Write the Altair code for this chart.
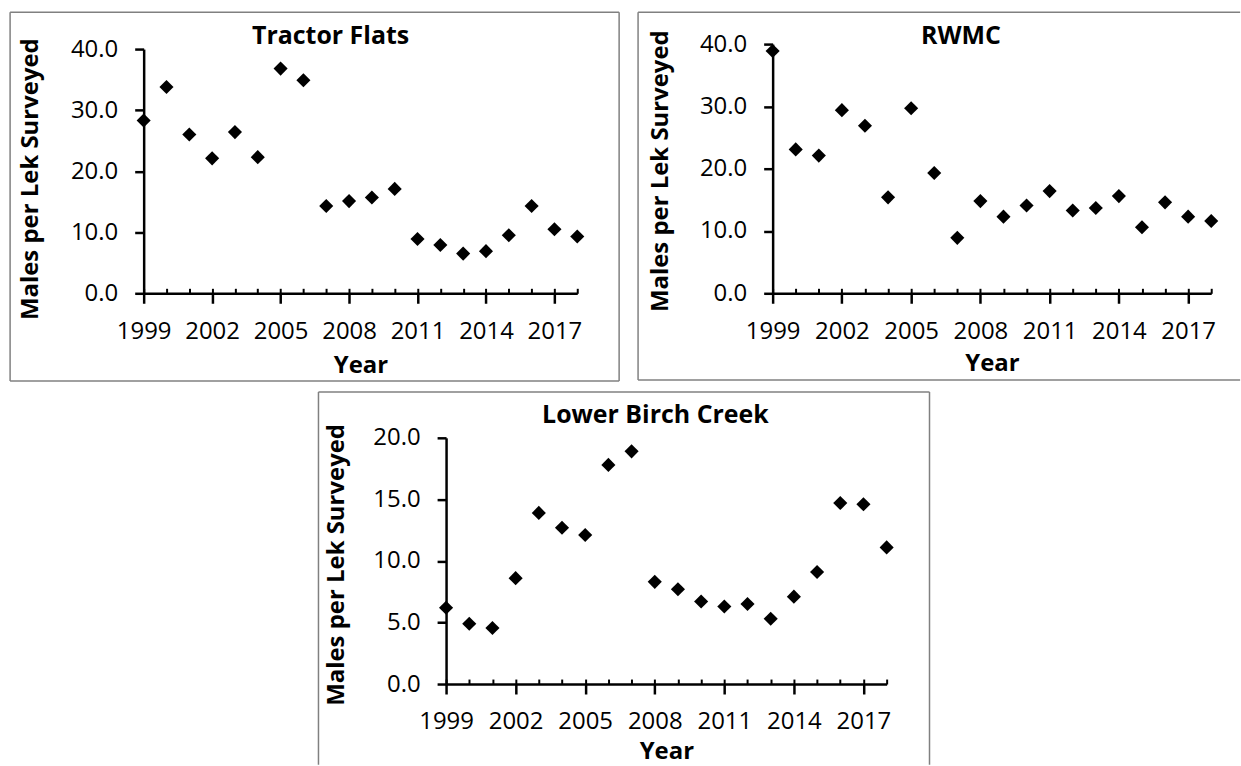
import altair as alt
import pandas as pd

# ---------------- data ----------------
years = list(range(1999, 2019))
major_years = [1999, 2002, 2005, 2008, 2011, 2014, 2017]

tractor_flats = [28.3, 33.8, 26.0, 22.1, 26.4, 22.3, 36.8, 34.9, 14.3, 15.1,
                 15.7, 17.1, 8.9, 7.9, 6.5, 6.9, 9.5, 14.3, 10.5, 9.3]
rwmc = [38.9, 23.1, 22.1, 29.4, 26.9, 15.4, 29.7, 19.3, 8.9, 14.8,
        12.3, 14.1, 16.4, 13.3, 13.7, 15.6, 10.6, 14.6, 12.3, 11.6]
lower_birch_creek = [6.2, 4.9, 4.55, 8.6, 13.9, 12.7, 12.1, 17.8, 18.9, 8.3,
                     7.7, 6.7, 6.3, 6.5, 5.3, 7.1, 9.1, 14.7, 14.6, 11.1]

panel_titles = ["Tractor Flats", "RWMC", "Lower Birch Creek"]
y_max = [40, 40, 20]
y_ticks = [[0, 10, 20, 30, 40], [0, 10, 20, 30, 40], [0, 5, 10, 15, 20]]
y_title = "Males per Lek Surveyed"
x_title = "Year"

FONT = "Open Sans"
INK = "black"
BOX = "#808080"
one = pd.DataFrame({"k": [0]})


def rule(a, b, c, d, opacity=1):
    return alt.Chart(one).mark_rule(color=BOX, strokeWidth=1.5, opacity=opacity).encode(
        x=alt.value(a), x2=alt.value(b), y=alt.value(c), y2=alt.value(d))


def panel(title, values, ymax, yticks, w, h, ytop, box, sides, title_pos,
          ytitle_x, ytitle_y, xtitle_y, extra_right=None):
    df = pd.DataFrame({"Year": years, "Value": values})
    xscale = alt.Scale(domain=[1999, 2018], nice=False, zero=False)
    yscale = alt.Scale(domain=[0, ymax], nice=False, zero=True, range=[h, ytop])
    common = dict(domainColor=INK, tickColor=INK, labelColor=INK, titleColor=INK,
                  grid=False, labelFont=FONT, titleFont=FONT)
    x_axis = alt.Axis(values=major_years, format="d", title=x_title, tickSize=10,
                      tickWidth=2.5, domainWidth=2.5, labelFontSize=24, labelPadding=16,
                      labelFlush=False, labelOverlap=False, titleFontSize=24,
                      titleFontWeight="bold", titleX=w / 2, titleY=xtitle_y,
                      titleBaseline="alphabetic", titleAlign="center", **common)
    y_axis = alt.Axis(values=yticks, format=".1f", title=y_title, tickSize=9,
                      tickWidth=2.5, domainWidth=2.5, labelFontSize=24, labelPadding=17,
                      labelFlush=False, labelOverlap=False, titleFontSize=24,
                      titleFontWeight="bold", titleAngle=270, titleX=ytitle_x,
                      titleY=ytitle_y, titleBaseline="alphabetic", titleAlign="center",
                      **common)
    pts = alt.Chart(df).mark_point(shape="diamond", filled=True, size=200, color=INK,
                                   opacity=1, clip=False).encode(
        x=alt.X("Year:Q", scale=xscale, axis=x_axis),
        y=alt.Y("Value:Q", scale=yscale, axis=y_axis))
    minor = alt.Chart(df).mark_point(opacity=0).encode(
        x=alt.X("Year:Q", scale=xscale,
                axis=alt.Axis(orient="top", offset=-h, values=years, labels=False,
                              domain=False, ticks=True, tickSize=5, tickWidth=2,
                              tickColor=INK, grid=False, title=None)),
        y=alt.value(h / 2))
    ttl = alt.Chart(pd.DataFrame({"name": [title]})).mark_text(
        font=FONT, fontSize=25, fontWeight="bold", color=INK, align="center",
        baseline="alphabetic").encode(
        text="name:N", x=alt.value(title_pos[0]), y=alt.value(title_pos[1]))
    l, t, r, b = box
    edges = []
    if "top" in sides:
        edges.append(rule(l, r, t, t))
    if "bottom" in sides:
        edges.append(rule(l, r, b, b))
    if "left" in sides:
        edges.append(rule(l, l, t, b))
    if "right" in sides:
        edges.append(rule(r, r, t, b))
    if extra_right is not None:
        edges.append(rule(extra_right, extra_right, t, t + 20, opacity=0))
    return alt.layer(*edges, minor, pts, ttl).resolve_axis(x="independent").properties(
        width=w, height=h)


p1 = panel(panel_titles[0], tractor_flats, y_max[0], y_ticks[0], 435, 250, 5,
           (-134, -32, 477, 338), ["top", "bottom", "left", "right"],
           (187.5, 0), -107, 135, 79)
p2 = panel(panel_titles[1], rwmc, y_max[1], y_ticks[1], 440, 250, 0,
           (-135, -32, 469, 337), ["top", "bottom", "left"],
           (189, 0), -105, 127, 77)
p3 = panel(panel_titles[2], lower_birch_creek, y_max[2], y_ticks[2], 442, 247, 0,
           (-128, -46, 485, 328), ["top", "left", "right"],
           (210, -15), -103, 127, 75, extra_right=494)

chart = alt.vconcat(
    alt.hconcat(p1, p2, spacing=17),
    p3,
    spacing=9,
    center=True,
).properties(
    padding={"left": 9, "top": 10, "right": 0, "bottom": 0},
    background="white",
).configure_view(stroke=None)

chart.save("out.html", embed_options={"renderer": "svg", "actions": False})
